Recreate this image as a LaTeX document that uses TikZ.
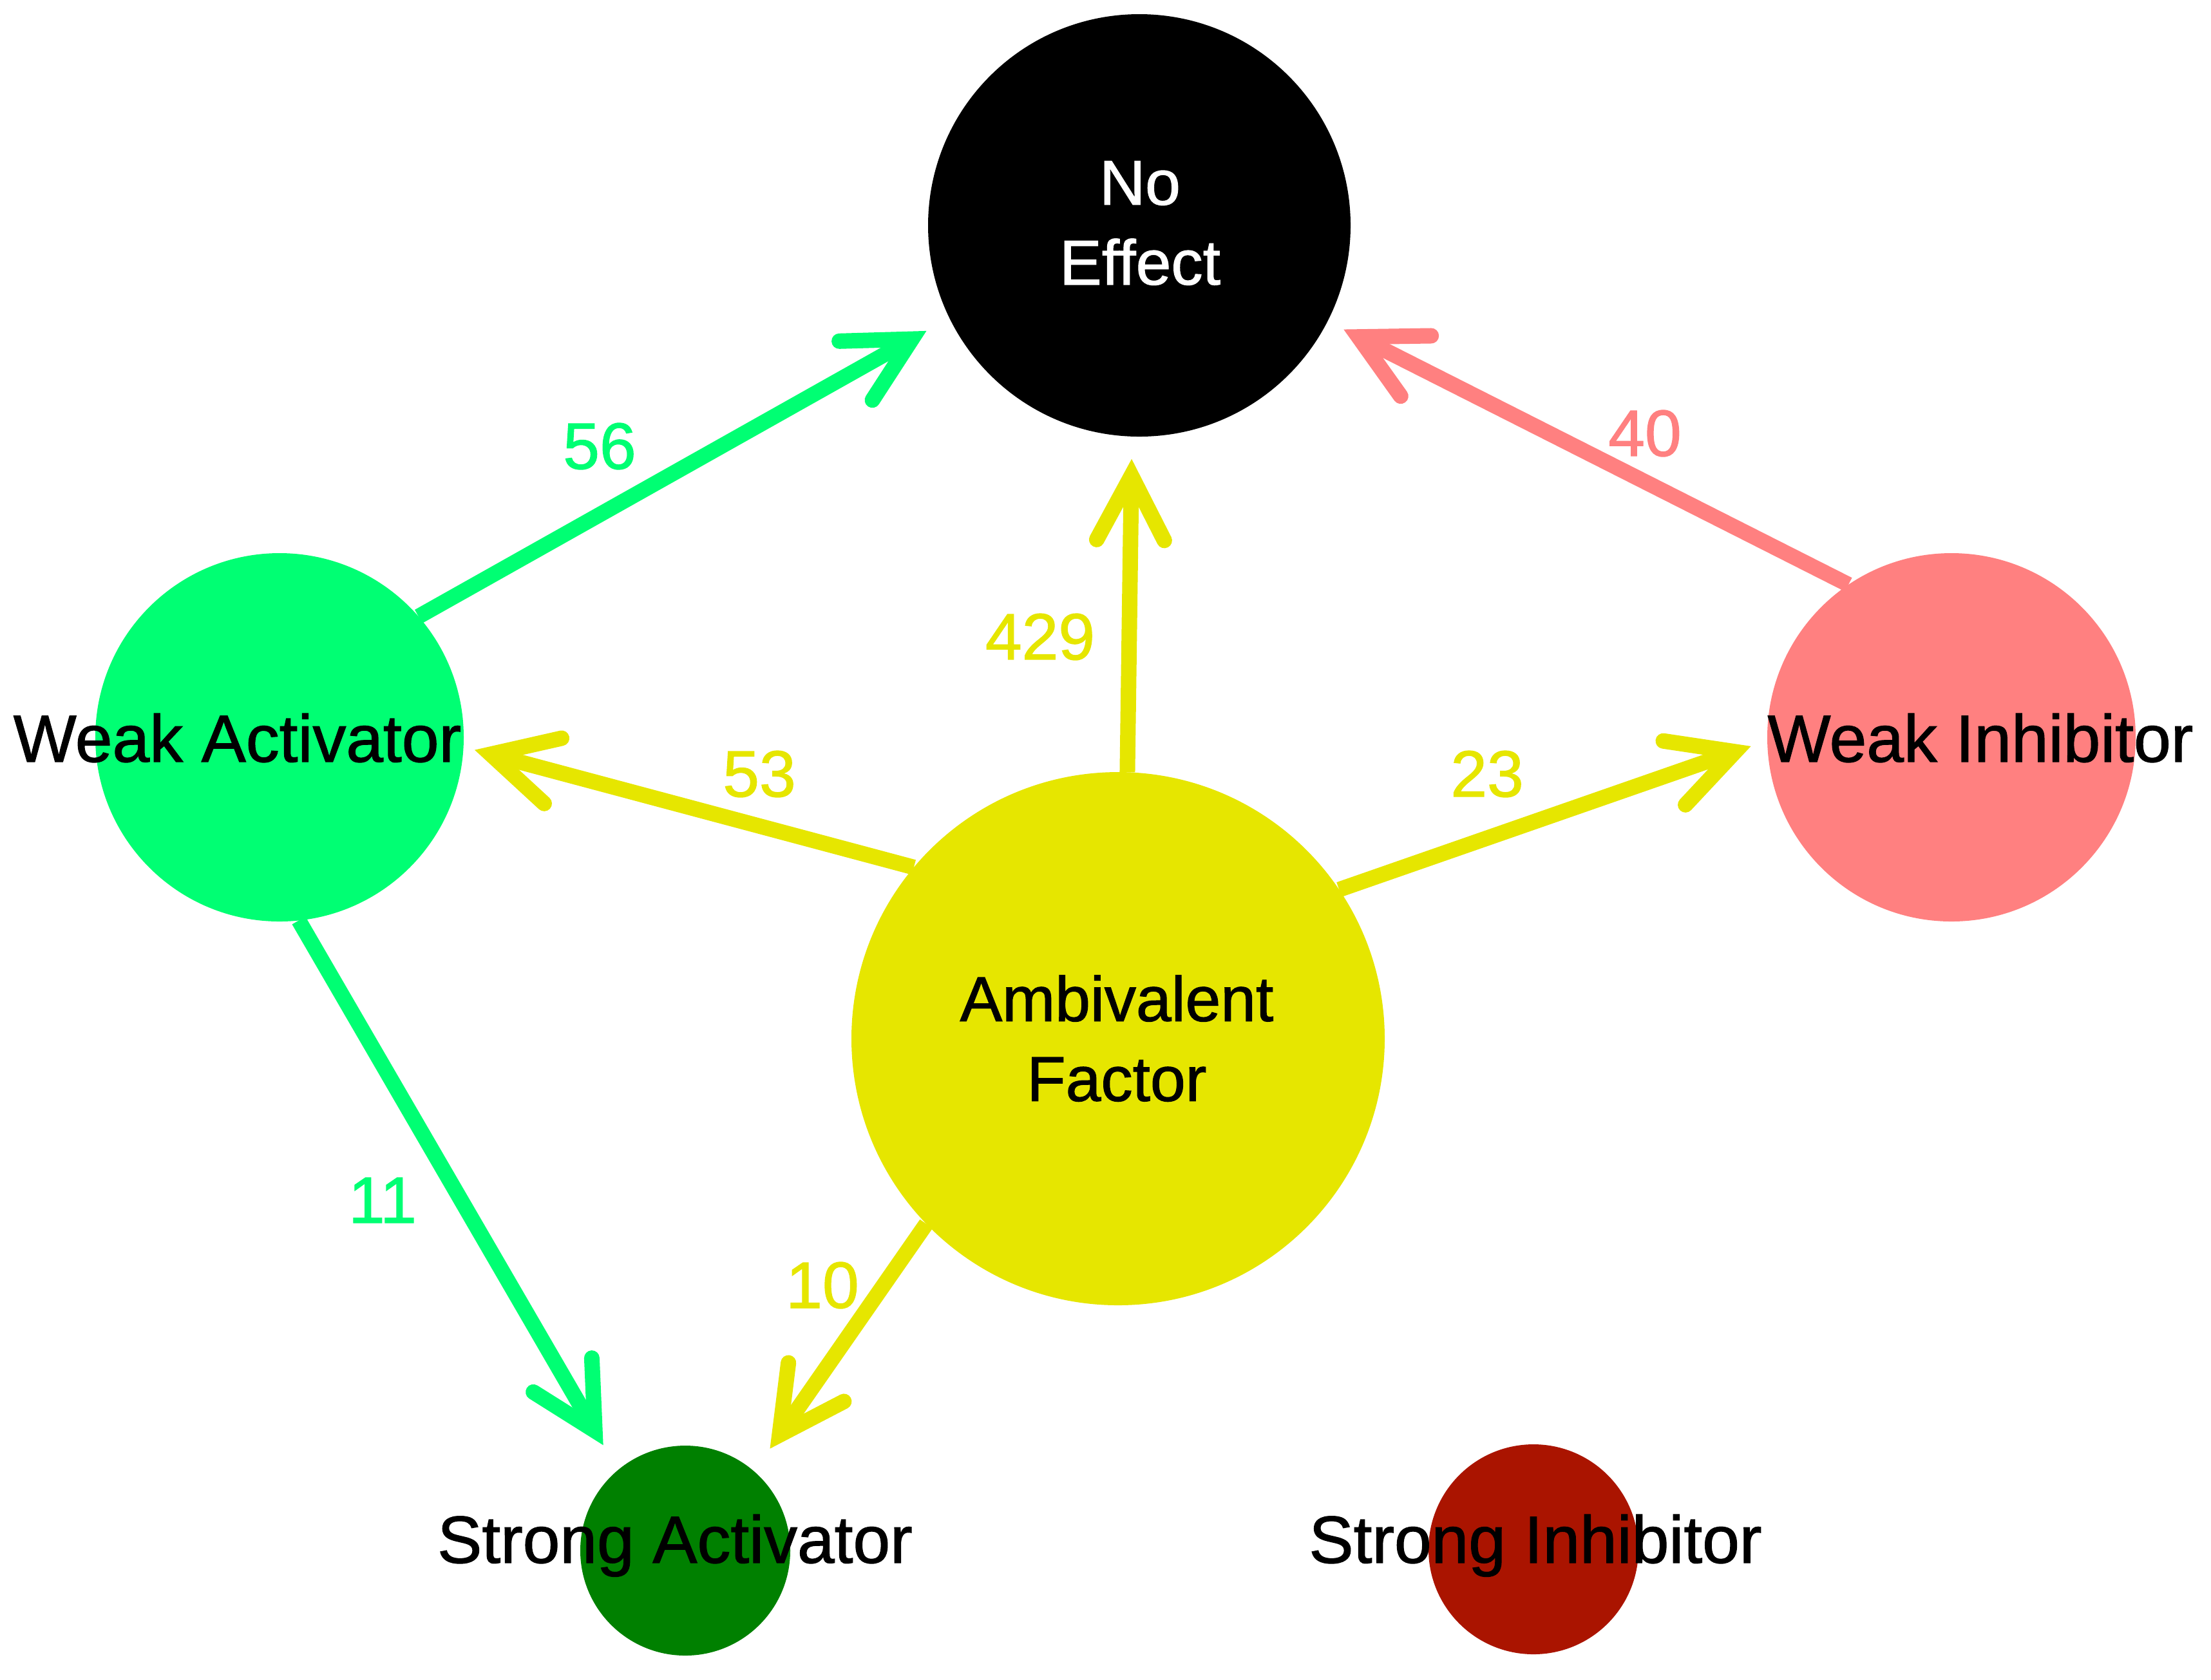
\documentclass[tikz,border=0pt]{standalone}
\usepackage{fontspec}
\setmainfont{Liberation Sans}[UprightFeatures={FakeBold=1.2}]
\definecolor{noeff}{RGB}{0,0,0}
\definecolor{weakact}{RGB}{0,255,115}
\definecolor{weakinh}{RGB}{255,128,128}
\definecolor{ambiv}{RGB}{230,230,0}
\definecolor{strongact}{RGB}{0,128,0}
\definecolor{stronginh}{RGB}{170,20,0}
\usetikzlibrary{arrows.meta,positioning}

\begin{document}
\begin{tikzpicture}[
    every node/.style={inner sep=0pt,outer sep=0pt},
    vertex/.style={circle,minimum size=#1},
    lbl/.style={font=\fontsize{29.5}{35}\selectfont,anchor=base},
    lbltwo/.style={font=\fontsize{28}{35.3}\selectfont,align=center},
    numlbl/.style={font=\fontsize{29}{35}\selectfont},
    link/.style={line width=0.24cm,
      -{Straight Barb[length=1cm,width=1.05cm,line cap=round,line join=miter]}}
    ]
    \useasboundingbox (0,0) rectangle (34.33,-26.08);

    \node (ne) [vertex=6.56cm,fill=noeff] at (17.69,-3.50) {};
    \node (wa) [vertex=5.72cm,fill=weakact] at (4.34,-11.45) {};
    \node (wi) [vertex=5.72cm,fill=weakinh] at (30.30,-11.45) {};
    \node (af) [vertex=8.28cm,fill=ambiv] at (17.36,-16.13) {};
    \node (sa) [vertex=3.26cm,fill=strongact] at (10.64,-24.08) {};
    \node (si) [vertex=3.26cm,fill=stronginh] at (23.81,-24.06) {};

    % the edges
    \draw [link,color=weakact,shorten >=0.41cm] (wa.41.3) -- (ne.206.9);
    \draw [link,color=weakact,shorten >=0.45cm] (wa.-84) -- (sa.130.1);
    \draw [link,color=weakinh,shorten >=0.28cm] (wi.124.6) -- (ne.-27.6);
    \draw [link,color=ambiv,shorten >=0.35cm] (af.88.2) -- (ne.-92.2);
    \draw [link,color=ambiv,shorten >=0.18cm] (af.140.7) -- (wa.-3.8);
    \draw [link,color=ambiv,shorten >=0.27cm] (af.34.3) -- (wi.181.1);
    \draw [link,color=ambiv,shorten >=0.43cm] (af.224.9) -- (sa.49.7);

    % the counts
    \node (n-wa-ne) [numlbl,text=weakact] at (9.31,-6.93) {56};
    \node (n-wa-sa) [numlbl,text=weakact] at (5.94,-18.64) {11};
    \node (n-wi-ne) [numlbl,text=weakinh] at (25.54,-6.73) {40};
    \node (n-af-ne) [numlbl,text=ambiv] at (16.15,-9.89) {429};
    \node (n-af-wa) [numlbl,text=ambiv] at (11.79,-12.02) {53};
    \node (n-af-wi) [numlbl,text=ambiv] at (23.09,-12.02) {23};
    \node (n-af-sa) [numlbl,text=ambiv] at (12.77,-19.96) {10};

    % the names
    \node (ne-text) [lbltwo,text=white] at (17.70,-3.465) {No\\Effect};
    \node (af-text) [lbltwo] at (17.34,-16.125) {Ambivalent\\Factor};
    \node (wa-text) [lbl] at (3.685,-11.83) {Weak Activator};
    \node (wi-text) [lbl] at (30.75,-11.83) {Weak Inhibitor};
    \node (sa-text) [lbl] at (10.48,-24.27) {Strong Activator};
    \node (si-text) [lbl] at (23.84,-24.27) {Strong Inhibitor};
\end{tikzpicture}
\end{document}
